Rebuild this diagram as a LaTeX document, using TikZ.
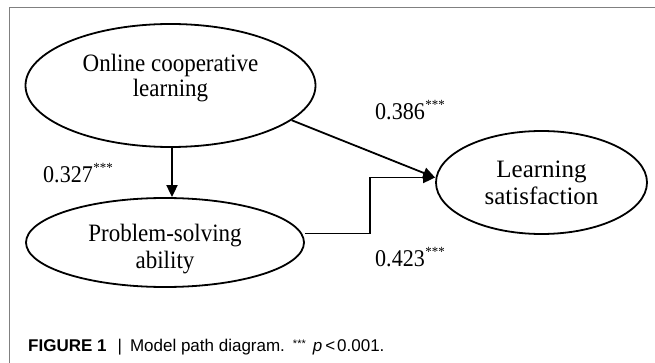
\documentclass[tikz,border=0pt]{standalone}
\usepackage{fontspec}
\setmainfont{Liberation Serif}
\setsansfont{Liberation Sans}
\newfontfamily\dfont[FakeStretch=0.92]{Liberation Serif}
\usetikzlibrary{arrows.meta,shapes.geometric}
\newcommand\sigstars{\hspace{0.5pt}\raisebox{10pt}{\fontsize{14}{14}\selectfont ***}}
\begin{document}
\begin{tikzpicture}[x=1pt,y=-1pt,
  ell/.style={draw, ellipse, line width=1.8pt, inner sep=0pt, align=center},
  conn/.style={line width=1.8pt, -{Triangle[length=12pt,width=11pt]}},
  lab/.style={anchor=base west, inner sep=0pt, font=\dfont\fontsize{24}{27}\selectfont}]
\useasboundingbox (0,0) rectangle (655,363);
\fill[white] (0,0) rectangle (655,363);
\draw[gray, line width=1pt] (9,363) -- (9,7.5) -- (655,7.5);

\node[ell, minimum width=290pt, minimum height=123pt, text height=42.1pt, text depth=19.7pt,
      font=\dfont\fontsize{25}{25}\selectfont] (e1) at (170.5,85.5) {Online cooperative\\learning};
\node[ell, minimum width=278pt, minimum height=89pt, text height=56.4pt, text depth=5.4pt,
      font=\dfont\fontsize{25}{26.5}\selectfont] (e2) at (165,242.5) {Problem-solving\\ability};
\node[ell, minimum width=211pt, minimum height=103pt, text height=50.4pt, text depth=5.4pt,
      font=\fontsize{25}{28}\selectfont] (e3) at (541.5,182.5) {Learning\\satisfaction};

\coordinate (bend) at (370,0);
\coordinate (vx) at (172,0);
\draw[conn] (e1.south -| vx) -- (vx |- e2.north);
\draw[conn] (e1.-16) -- ([yshift=5pt]e3.west);
\draw[conn] ([yshift=9pt]e2.east) -- ([yshift=9pt]e2.east -| bend) |- ([yshift=5pt]e3.west);

\node[lab] (l1) at (43,182.7) {0.327\sigstars};
\node[lab] (l2) at (375,120) {0.386\sigstars};
\node[lab] (l3) at (375,266.7) {0.423\sigstars};

\node[anchor=base west, inner sep=0pt, font=\sffamily\fontsize{17}{20}\selectfont] (cap) at (28,351)
  {\textbf{FIGURE 1}\hspace{11pt}|\hspace{8pt}Model path diagram.\hspace{8pt}\raisebox{4pt}{\fontsize{11}{11}\selectfont ***}\hspace{7pt}\textit{p}\hspace{3pt}<\hspace{2pt}0.001.};
\end{tikzpicture}
\end{document}
